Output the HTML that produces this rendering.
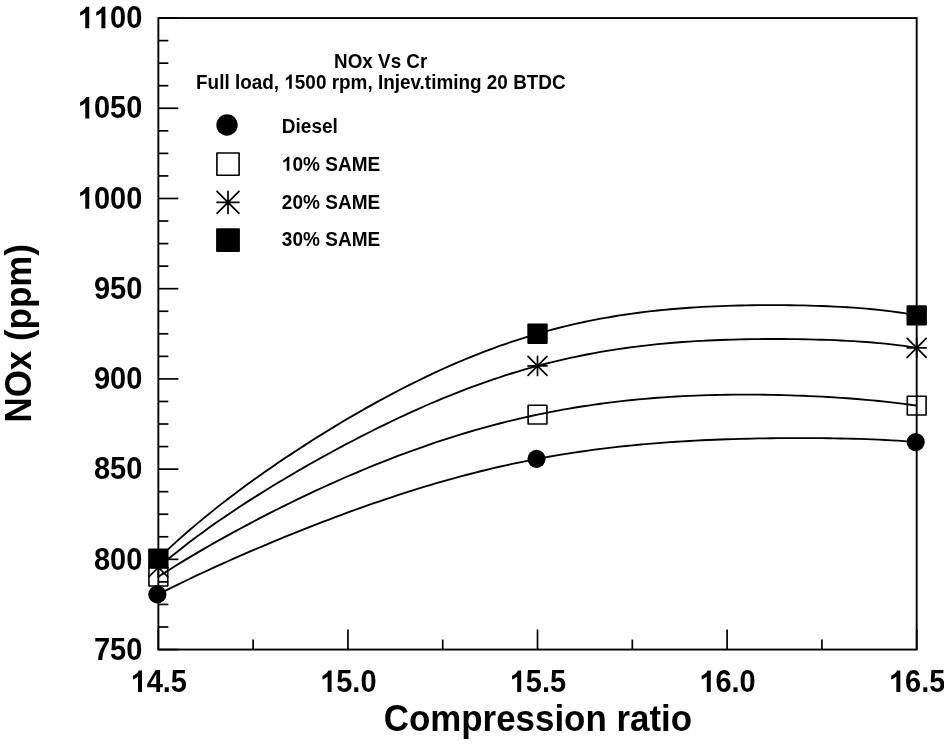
<!DOCTYPE html>
<html><head><meta charset="utf-8"><title>NOx Vs Cr</title>
<style>html,body{margin:0;padding:0;background:#fff;overflow:hidden;}svg{display:block;will-change:transform;}text{font-family:"Liberation Sans",sans-serif;font-weight:bold;fill:#000;}</style></head><body>
<svg width="944" height="745" viewBox="0 0 944 745">
<rect x="0" y="0" width="944" height="745" fill="#fff"/>
<g stroke="#000" stroke-width="1.7" fill="none" stroke-linecap="butt">
<line x1="158.35" y1="649.55" x2="178.35" y2="649.55"/>
<line x1="158.35" y1="627.00" x2="168.35" y2="627.00"/>
<line x1="158.35" y1="604.44" x2="168.35" y2="604.44"/>
<line x1="158.35" y1="581.89" x2="168.35" y2="581.89"/>
<line x1="158.35" y1="559.34" x2="178.35" y2="559.34"/>
<line x1="158.35" y1="536.78" x2="168.35" y2="536.78"/>
<line x1="158.35" y1="514.23" x2="168.35" y2="514.23"/>
<line x1="158.35" y1="491.67" x2="168.35" y2="491.67"/>
<line x1="158.35" y1="469.12" x2="178.35" y2="469.12"/>
<line x1="158.35" y1="446.57" x2="168.35" y2="446.57"/>
<line x1="158.35" y1="424.01" x2="168.35" y2="424.01"/>
<line x1="158.35" y1="401.46" x2="168.35" y2="401.46"/>
<line x1="158.35" y1="378.91" x2="178.35" y2="378.91"/>
<line x1="158.35" y1="356.35" x2="168.35" y2="356.35"/>
<line x1="158.35" y1="333.80" x2="168.35" y2="333.80"/>
<line x1="158.35" y1="311.25" x2="168.35" y2="311.25"/>
<line x1="158.35" y1="288.69" x2="178.35" y2="288.69"/>
<line x1="158.35" y1="266.14" x2="168.35" y2="266.14"/>
<line x1="158.35" y1="243.59" x2="168.35" y2="243.59"/>
<line x1="158.35" y1="221.03" x2="168.35" y2="221.03"/>
<line x1="158.35" y1="198.48" x2="178.35" y2="198.48"/>
<line x1="158.35" y1="175.92" x2="168.35" y2="175.92"/>
<line x1="158.35" y1="153.37" x2="168.35" y2="153.37"/>
<line x1="158.35" y1="130.82" x2="168.35" y2="130.82"/>
<line x1="158.35" y1="108.26" x2="178.35" y2="108.26"/>
<line x1="158.35" y1="85.71" x2="168.35" y2="85.71"/>
<line x1="158.35" y1="63.16" x2="168.35" y2="63.16"/>
<line x1="158.35" y1="40.60" x2="168.35" y2="40.60"/>
<line x1="158.35" y1="18.05" x2="178.35" y2="18.05"/>
<line x1="158.35" y1="649.55" x2="158.35" y2="629.55"/>
<line x1="253.14" y1="649.55" x2="253.14" y2="639.55"/>
<line x1="347.94" y1="649.55" x2="347.94" y2="629.55"/>
<line x1="442.73" y1="649.55" x2="442.73" y2="639.55"/>
<line x1="537.52" y1="649.55" x2="537.52" y2="629.55"/>
<line x1="632.32" y1="649.55" x2="632.32" y2="639.55"/>
<line x1="727.11" y1="649.55" x2="727.11" y2="629.55"/>
<line x1="821.91" y1="649.55" x2="821.91" y2="639.55"/>
<line x1="916.70" y1="649.55" x2="916.70" y2="629.55"/>
</g>
<rect x="158.35" y="18.05" width="758.35" height="631.50" fill="none" stroke="#000" stroke-width="1.9"/>
<g stroke="#000" stroke-width="1.85" fill="none" stroke-linejoin="round">
<polyline points="158.3,594.34 164.7,591.12 171.0,587.95 177.3,584.83 183.6,581.75 189.9,578.71 196.3,575.71 202.6,572.75 208.9,569.82 215.2,566.93 221.5,564.06 227.9,561.23 234.2,558.42 240.5,555.65 246.8,552.90 253.1,550.18 259.5,547.48 265.8,544.81 272.1,542.17 278.4,539.55 284.7,536.95 291.1,534.39 297.4,531.84 303.7,529.32 310.0,526.83 316.3,524.37 322.7,521.93 329.0,519.52 335.3,517.13 341.6,514.78 347.9,512.45 354.3,510.15 360.6,507.88 366.9,505.65 373.2,503.44 379.5,501.26 385.9,499.12 392.2,497.01 398.5,494.93 404.8,492.89 411.1,490.88 417.5,488.91 423.8,486.98 430.1,485.08 436.4,483.22 442.7,481.39 449.1,479.61 455.4,477.86 461.7,476.15 468.0,474.49 474.3,472.86 480.6,471.27 487.0,469.73 493.3,468.22 499.6,466.76 505.9,465.33 512.2,463.95 518.6,462.61 524.9,461.31 531.2,460.05 537.5,458.84 543.8,457.66 550.2,456.53 556.5,455.43 562.8,454.38 569.1,453.37 575.4,452.39 581.8,451.46 588.1,450.56 594.4,449.70 600.7,448.88 607.0,448.10 613.4,447.35 619.7,446.64 626.0,445.96 632.3,445.32 638.6,444.71 645.0,444.14 651.3,443.59 657.6,443.08 663.9,442.60 670.2,442.15 676.6,441.72 682.9,441.32 689.2,440.96 695.5,440.61 701.8,440.29 708.2,440.00 714.5,439.73 720.8,439.48 727.1,439.26 733.4,439.05 739.8,438.87 746.1,438.71 752.4,438.56 758.7,438.44 765.0,438.33 771.3,438.24 777.7,438.17 784.0,438.12 790.3,438.08 796.6,438.07 802.9,438.07 809.3,438.09 815.6,438.12 821.9,438.18 828.2,438.25 834.5,438.34 840.9,438.46 847.2,438.60 853.5,438.76 859.8,438.94 866.1,439.15 872.5,439.39 878.8,439.66 885.1,439.96 891.4,440.30 897.7,440.68 904.1,441.09 910.4,441.55 916.7,442.06"/>
<polyline points="158.3,576.66 164.7,572.63 171.0,568.67 177.3,564.76 183.6,560.91 189.9,557.12 196.3,553.37 202.6,549.67 208.9,546.02 215.2,542.42 221.5,538.87 227.9,535.35 234.2,531.88 240.5,528.45 246.8,525.07 253.1,521.72 259.5,518.41 265.8,515.15 272.1,511.92 278.4,508.73 284.7,505.58 291.1,502.47 297.4,499.40 303.7,496.37 310.0,493.38 316.3,490.42 322.7,487.51 329.0,484.63 335.3,481.80 341.6,479.00 347.9,476.25 354.3,473.53 360.6,470.86 366.9,468.23 373.2,465.65 379.5,463.10 385.9,460.60 392.2,458.14 398.5,455.73 404.8,453.36 411.1,451.04 417.5,448.77 423.8,446.54 430.1,444.35 436.4,442.21 442.7,440.12 449.1,438.08 455.4,436.09 461.7,434.14 468.0,432.25 474.3,430.40 480.6,428.60 487.0,426.85 493.3,425.15 499.6,423.50 505.9,421.90 512.2,420.35 518.6,418.84 524.9,417.39 531.2,415.99 537.5,414.63 543.8,413.33 550.2,412.07 556.5,410.86 562.8,409.70 569.1,408.59 575.4,407.53 581.8,406.51 588.1,405.54 594.4,404.61 600.7,403.74 607.0,402.90 613.4,402.11 619.7,401.37 626.0,400.67 632.3,400.01 638.6,399.39 645.0,398.82 651.3,398.28 657.6,397.79 663.9,397.33 670.2,396.91 676.6,396.53 682.9,396.19 689.2,395.88 695.5,395.61 701.8,395.37 708.2,395.17 714.5,395.00 720.8,394.86 727.1,394.76 733.4,394.68 739.8,394.64 746.1,394.63 752.4,394.64 758.7,394.69 765.0,394.76 771.3,394.86 777.7,394.99 784.0,395.15 790.3,395.33 796.6,395.55 802.9,395.79 809.3,396.05 815.6,396.35 821.9,396.68 828.2,397.03 834.5,397.41 840.9,397.82 847.2,398.27 853.5,398.75 859.8,399.25 866.1,399.80 872.5,400.38 878.8,401.00 885.1,401.65 891.4,402.35 897.7,403.09 904.1,403.88 910.4,404.72 916.7,405.61"/>
<polyline points="158.3,567.45 164.7,562.06 171.0,556.80 177.3,551.69 183.6,546.70 189.9,541.82 196.3,537.06 202.6,532.40 208.9,527.84 215.2,523.37 221.5,518.98 227.9,514.66 234.2,510.42 240.5,506.25 246.8,502.15 253.1,498.10 259.5,494.11 265.8,490.18 272.1,486.30 278.4,482.47 284.7,478.69 291.1,474.95 297.4,471.26 303.7,467.61 310.0,464.01 316.3,460.45 322.7,456.93 329.0,453.45 335.3,450.01 341.6,446.62 347.9,443.27 354.3,439.95 360.6,436.69 366.9,433.46 373.2,430.28 379.5,427.15 385.9,424.05 392.2,421.01 398.5,418.01 404.8,415.07 411.1,412.17 417.5,409.32 423.8,406.52 430.1,403.77 436.4,401.08 442.7,398.44 449.1,395.86 455.4,393.33 461.7,390.86 468.0,388.45 474.3,386.10 480.6,383.81 487.0,381.57 493.3,379.40 499.6,377.29 505.9,375.24 512.2,373.25 518.6,371.32 524.9,369.46 531.2,367.66 537.5,365.92 543.8,364.24 550.2,362.63 556.5,361.07 562.8,359.59 569.1,358.16 575.4,356.79 581.8,355.48 588.1,354.24 594.4,353.05 600.7,351.92 607.0,350.85 613.4,349.83 619.7,348.87 626.0,347.96 632.3,347.11 638.6,346.31 645.0,345.56 651.3,344.86 657.6,344.20 663.9,343.59 670.2,343.03 676.6,342.51 682.9,342.03 689.2,341.60 695.5,341.20 701.8,340.84 708.2,340.51 714.5,340.22 720.8,339.97 727.1,339.75 733.4,339.55 739.8,339.39 746.1,339.26 752.4,339.15 758.7,339.08 765.0,339.03 771.3,339.00 777.7,339.00 784.0,339.03 790.3,339.08 796.6,339.16 802.9,339.26 809.3,339.39 815.6,339.55 821.9,339.74 828.2,339.95 834.5,340.20 840.9,340.49 847.2,340.81 853.5,341.17 859.8,341.57 866.1,342.02 872.5,342.52 878.8,343.08 885.1,343.69 891.4,344.37 897.7,345.12 904.1,345.95 910.4,346.87 916.7,347.87"/>
<polyline points="158.3,558.61 164.7,552.55 171.0,546.64 177.3,540.87 183.6,535.24 189.9,529.74 196.3,524.36 202.6,519.09 208.9,513.93 215.2,508.86 221.5,503.89 227.9,499.01 234.2,494.20 240.5,489.48 246.8,484.83 253.1,480.25 259.5,475.74 265.8,471.30 272.1,466.91 278.4,462.59 284.7,458.32 291.1,454.11 297.4,449.95 303.7,445.85 310.0,441.80 316.3,437.80 322.7,433.85 329.0,429.95 335.3,426.11 341.6,422.32 347.9,418.57 354.3,414.88 360.6,411.24 366.9,407.66 373.2,404.13 379.5,400.65 385.9,397.23 392.2,393.86 398.5,390.55 404.8,387.30 411.1,384.10 417.5,380.97 423.8,377.89 430.1,374.88 436.4,371.92 442.7,369.03 449.1,366.21 455.4,363.45 461.7,360.75 468.0,358.12 474.3,355.56 480.6,353.07 487.0,350.64 493.3,348.28 499.6,345.99 505.9,343.77 512.2,341.62 518.6,339.54 524.9,337.53 531.2,335.58 537.5,333.71 543.8,331.91 550.2,330.17 556.5,328.50 562.8,326.90 569.1,325.37 575.4,323.91 581.8,322.51 588.1,321.18 594.4,319.91 600.7,318.70 607.0,317.56 613.4,316.48 619.7,315.45 626.0,314.49 632.3,313.58 638.6,312.73 645.0,311.93 651.3,311.19 657.6,310.50 663.9,309.85 670.2,309.26 676.6,308.71 682.9,308.21 689.2,307.75 695.5,307.33 701.8,306.95 708.2,306.62 714.5,306.31 720.8,306.05 727.1,305.82 733.4,305.62 739.8,305.46 746.1,305.33 752.4,305.23 758.7,305.15 765.0,305.11 771.3,305.10 777.7,305.11 784.0,305.15 790.3,305.22 796.6,305.32 802.9,305.45 809.3,305.61 815.6,305.80 821.9,306.02 828.2,306.28 834.5,306.57 840.9,306.90 847.2,307.28 853.5,307.70 859.8,308.16 866.1,308.68 872.5,309.26 878.8,309.90 885.1,310.61 891.4,311.39 897.7,312.25 904.1,313.20 910.4,314.25 916.7,315.40"/>
</g>
<circle cx="157.35" cy="594.34" r="9.1" fill="#000"/>
<circle cx="536.52" cy="458.84" r="9.1" fill="#000"/>
<circle cx="915.70" cy="442.06" r="9.1" fill="#000"/>
<rect x="148.95" y="567.26" width="18.80" height="18.80" fill="none" stroke="#000" stroke-width="1.6" stroke-linejoin="round"/>
<rect x="528.12" y="405.23" width="18.80" height="18.80" fill="none" stroke="#000" stroke-width="1.6" stroke-linejoin="round"/>
<rect x="907.30" y="396.21" width="18.80" height="18.80" fill="none" stroke="#000" stroke-width="1.6" stroke-linejoin="round"/>
<path d="M148.85,567.45H167.85M158.35,557.95V576.95M148.85,557.95L167.85,576.95M148.85,576.95L167.85,557.95" stroke="#000" stroke-width="1.7" stroke-linecap="round" fill="none"/>
<path d="M528.02,365.92H547.02M537.52,356.42V375.42M528.02,356.42L547.02,375.42M528.02,375.42L547.02,356.42" stroke="#000" stroke-width="1.7" stroke-linecap="round" fill="none"/>
<path d="M907.20,347.87H926.20M916.70,338.37V357.37M907.20,338.37L926.20,357.37M907.20,357.37L926.20,338.37" stroke="#000" stroke-width="1.7" stroke-linecap="round" fill="none"/>
<rect x="148.95" y="549.21" width="18.80" height="18.80" fill="#000" stroke="#000" stroke-width="1.6" stroke-linejoin="round"/>
<rect x="528.12" y="324.31" width="18.80" height="18.80" fill="#000" stroke="#000" stroke-width="1.6" stroke-linejoin="round"/>
<rect x="907.30" y="306.00" width="18.80" height="18.80" fill="#000" stroke="#000" stroke-width="1.6" stroke-linejoin="round"/>
<circle cx="227.00" cy="125.05" r="10.7" fill="#000"/>
<rect x="216.90" y="153.00" width="22.20" height="22.20" fill="none" stroke="#000" stroke-width="1.6" stroke-linejoin="round"/>
<path d="M217.00,202.40H239.00M228.00,191.40V213.40M217.00,191.40L239.00,213.40M217.00,213.40L239.00,191.40" stroke="#000" stroke-width="1.7" stroke-linecap="round" fill="none"/>
<rect x="216.90" y="229.00" width="22.20" height="22.20" fill="#000" stroke="#000" stroke-width="1.6" stroke-linejoin="round"/>
<text transform="translate(93.91,659.75) scale(0.967,1.035)" font-size="30.0">7</text>
<text transform="translate(110.04,659.75) scale(0.967,1.035)" font-size="30.0">5</text>
<text transform="translate(126.17,659.75) scale(0.967,1.035)" font-size="30.0">0</text>
<text transform="translate(93.91,569.54) scale(0.967,1.035)" font-size="30.0">8</text>
<text transform="translate(110.04,569.54) scale(0.967,1.035)" font-size="30.0">0</text>
<text transform="translate(126.17,569.54) scale(0.967,1.035)" font-size="30.0">0</text>
<text transform="translate(93.91,479.32) scale(0.967,1.035)" font-size="30.0">8</text>
<text transform="translate(110.04,479.32) scale(0.967,1.035)" font-size="30.0">5</text>
<text transform="translate(126.17,479.32) scale(0.967,1.035)" font-size="30.0">0</text>
<text transform="translate(93.91,389.11) scale(0.967,1.035)" font-size="30.0">9</text>
<text transform="translate(110.04,389.11) scale(0.967,1.035)" font-size="30.0">0</text>
<text transform="translate(126.17,389.11) scale(0.967,1.035)" font-size="30.0">0</text>
<text transform="translate(93.91,298.89) scale(0.967,1.035)" font-size="30.0">9</text>
<text transform="translate(110.04,298.89) scale(0.967,1.035)" font-size="30.0">5</text>
<text transform="translate(126.17,298.89) scale(0.967,1.035)" font-size="30.0">0</text>
<path d="M810 0H529V1059Q375 915 166 846V1101Q276 1137 405 1237.5Q534 1338 582 1472H810Z" transform="translate(77.78,208.68) scale(0.01417,-0.01465)" fill="#000"/>
<text transform="translate(93.91,208.68) scale(0.967,1.035)" font-size="30.0">0</text>
<text transform="translate(110.04,208.68) scale(0.967,1.035)" font-size="30.0">0</text>
<text transform="translate(126.17,208.68) scale(0.967,1.035)" font-size="30.0">0</text>
<path d="M810 0H529V1059Q375 915 166 846V1101Q276 1137 405 1237.5Q534 1338 582 1472H810Z" transform="translate(77.78,118.46) scale(0.01417,-0.01465)" fill="#000"/>
<text transform="translate(93.91,118.46) scale(0.967,1.035)" font-size="30.0">0</text>
<text transform="translate(110.04,118.46) scale(0.967,1.035)" font-size="30.0">5</text>
<text transform="translate(126.17,118.46) scale(0.967,1.035)" font-size="30.0">0</text>
<path d="M810 0H529V1059Q375 915 166 846V1101Q276 1137 405 1237.5Q534 1338 582 1472H810Z" transform="translate(77.78,28.25) scale(0.01417,-0.01465)" fill="#000"/>
<path d="M810 0H529V1059Q375 915 166 846V1101Q276 1137 405 1237.5Q534 1338 582 1472H810Z" transform="translate(93.91,28.25) scale(0.01417,-0.01465)" fill="#000"/>
<text transform="translate(110.04,28.25) scale(0.967,1.035)" font-size="30.0">0</text>
<text transform="translate(126.17,28.25) scale(0.967,1.035)" font-size="30.0">0</text>
<path d="M810 0H529V1059Q375 915 166 846V1101Q276 1137 405 1237.5Q534 1338 582 1472H810Z" transform="translate(130.52,692.00) scale(0.01417,-0.01465)" fill="#000"/>
<text transform="translate(146.65,692.00) scale(0.967,1.035)" font-size="30.0">4</text>
<text transform="translate(162.78,692.00) scale(0.967,1.035)" font-size="30.0">.</text>
<text transform="translate(170.85,692.00) scale(0.967,1.035)" font-size="30.0">5</text>
<path d="M810 0H529V1059Q375 915 166 846V1101Q276 1137 405 1237.5Q534 1338 582 1472H810Z" transform="translate(320.11,692.00) scale(0.01417,-0.01465)" fill="#000"/>
<text transform="translate(336.24,692.00) scale(0.967,1.035)" font-size="30.0">5</text>
<text transform="translate(352.37,692.00) scale(0.967,1.035)" font-size="30.0">.</text>
<text transform="translate(360.43,692.00) scale(0.967,1.035)" font-size="30.0">0</text>
<path d="M810 0H529V1059Q375 915 166 846V1101Q276 1137 405 1237.5Q534 1338 582 1472H810Z" transform="translate(509.70,692.00) scale(0.01417,-0.01465)" fill="#000"/>
<text transform="translate(525.83,692.00) scale(0.967,1.035)" font-size="30.0">5</text>
<text transform="translate(541.96,692.00) scale(0.967,1.035)" font-size="30.0">.</text>
<text transform="translate(550.02,692.00) scale(0.967,1.035)" font-size="30.0">5</text>
<path d="M810 0H529V1059Q375 915 166 846V1101Q276 1137 405 1237.5Q534 1338 582 1472H810Z" transform="translate(699.29,692.00) scale(0.01417,-0.01465)" fill="#000"/>
<text transform="translate(715.42,692.00) scale(0.967,1.035)" font-size="30.0">6</text>
<text transform="translate(731.54,692.00) scale(0.967,1.035)" font-size="30.0">.</text>
<text transform="translate(739.61,692.00) scale(0.967,1.035)" font-size="30.0">0</text>
<path d="M810 0H529V1059Q375 915 166 846V1101Q276 1137 405 1237.5Q534 1338 582 1472H810Z" transform="translate(888.87,692.00) scale(0.01417,-0.01465)" fill="#000"/>
<text transform="translate(905.00,692.00) scale(0.967,1.035)" font-size="30.0">6</text>
<text transform="translate(921.13,692.00) scale(0.967,1.035)" font-size="30.0">.</text>
<text transform="translate(929.20,692.00) scale(0.967,1.035)" font-size="30.0">5</text>
<text transform="translate(537.9,731) scale(1,1.055)" font-size="34.9" text-anchor="middle">Compression ratio</text>
<text transform="translate(30.9,333.3) rotate(-90) scale(1,1.055)" font-size="34.9" text-anchor="middle">NOx (ppm)</text>
<g transform="translate(380.7,67.7) scale(1,1.035)"><text font-size="18.85" text-anchor="middle">NOx Vs Cr</text></g>
<g transform="translate(380.85,88.7) scale(1,1.035)"><text font-size="18.93" text-anchor="middle">Full load, <tspan visibility="hidden">1</tspan>500 rpm, Injev.timing 20 BTDC</text><path d="M810 0H529V1059Q375 915 166 846V1101Q276 1137 405 1237.5Q534 1338 582 1472H810Z" transform="translate(-96.55,0) scale(0.00924,-0.00924)" fill="#000"/></g>
<g transform="translate(281.8,132.7) scale(1,1.035)"><text font-size="19.05">Diesel</text></g>
<g transform="translate(281.8,170.8) scale(1,1.035)"><text font-size="19.05"><tspan visibility="hidden">1</tspan>0% SAME</text><path d="M810 0H529V1059Q375 915 166 846V1101Q276 1137 405 1237.5Q534 1338 582 1472H810Z" transform="translate(0.00,0) scale(0.00930,-0.00930)" fill="#000"/></g>
<g transform="translate(281.8,208.6) scale(1,1.035)"><text font-size="19.05">20% SAME</text></g>
<g transform="translate(281.8,246.4) scale(1,1.035)"><text font-size="19.05">30% SAME</text></g>
</svg></body></html>
